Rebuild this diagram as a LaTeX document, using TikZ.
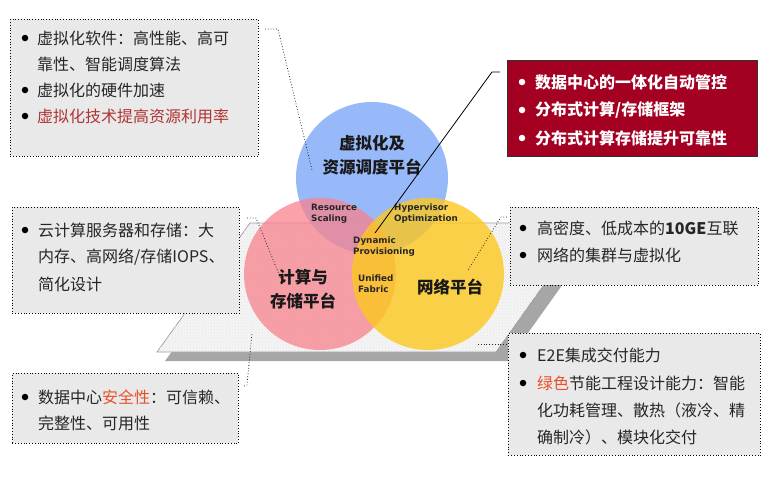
\documentclass[tikz,border=0pt]{standalone}
\usepackage{fontspec}
\newfontfamily\cjk{Noto Sans CJK SC}
\newfontfamily\lab{DejaVu Sans}
\usetikzlibrary{patterns}
\definecolor{boxgray}{HTML}{E9E9E9}
\definecolor{darkred}{HTML}{A30022}
\definecolor{hlred}{HTML}{E8502A}
\definecolor{txtred}{HTML}{B03434}
\definecolor{cblue}{RGB}{140,176,248}
\definecolor{cpink}{RGB}{248,130,140}
\definecolor{cyellow}{RGB}{252,200,30}
\definecolor{shadowgray}{HTML}{A6A6A6}
\tikzset{
  infobox/.style={draw=black, dotted, fill=boxgray, line width=0.8pt, inner sep=0pt},
  redbox/.style={draw=black!80, fill=darkred, line width=0.6pt, inner sep=0pt},
  boxtxt/.style={anchor=west, inner sep=0pt, font=\cjk\fontsize{16}{16}\selectfont, text=black!85},
  redtxt/.style={anchor=west, inner sep=0pt, text=white, font=\cjk\bfseries\fontsize{16}{16}\selectfont},
  bul/.style={circle, fill=black, inner sep=0pt, minimum size=6.5pt},
  wbul/.style={bul, fill=white},
  venn/.style={circle, minimum size=152pt, inner sep=0pt},
  circlabel/.style={align=center, inner sep=0pt, font=\cjk\bfseries\fontsize{16.5}{23.5}\selectfont, text=black!90},
  smalllab/.style={anchor=west, align=left, inner sep=0pt, font=\lab\bfseries\fontsize{8.8}{11}\selectfont, text=black!85},
  conn/.style={dotted, line width=0.8pt, black!85},
}
\begin{document}
\begin{tikzpicture}[x=1pt, y=-1pt]
\useasboundingbox (0,0) rectangle (777,493);
% platform
\fill[shadowgray] (165,361) -- (508,361) -- (600,232) -- (260,232) -- cycle;
\draw[gray!80, fill=gray!8, line width=0.7pt] (157,352) -- (496,352) -- (588,223) -- (250,223) -- cycle;
\fill[pattern=crosshatch dots, pattern color=gray!22] (157,352) -- (496,352) -- (588,223) -- (250,223) -- cycle;
% circles
\node[venn, fill=cblue, fill opacity=0.9] (cb) at (372,178) {};
\node[venn, fill=cpink, fill opacity=0.75] (cp) at (320,274) {};
\node[venn, fill=cyellow, fill opacity=0.8] (cy) at (428,274) {};
% circle labels
\node[circlabel] (lb) at (372,155) {虚拟化及\\资源调度平台};
\node[circlabel] (lp) at (303,289) {计算与\\存储平台};
\node[circlabel] (ly) at (450,287) {网络平台};
\node[smalllab] (rs) at (311,213.5) {Resource\\Scaling};
\node[smalllab] (ho) at (394,213.5) {Hypervisor\\Optimization};
\node[smalllab] (dp) at (353,246.5) {Dynamic\\Provisioning};
\node[smalllab] (uf) at (358,283.5) {Unified\\Fabric};
% connectors
\coordinate (a1) at (265,29); \coordinate (a2) at (278,29); \coordinate (a3) at (312,170);
\draw[conn] (a1) -- (a2) -- (a3);
\coordinate (b1) at (247,218); \coordinate (b2) at (256,218); \coordinate (b3) at (283,284);
\draw[conn] (b1) -- (b2) -- (b3);
\coordinate (c1) at (244,386); \coordinate (c2) at (247,385); \coordinate (c3) at (252,333);
\draw[conn] (c1) -- (c2) -- (c3);
\coordinate (e1) at (507,217); \coordinate (e2) at (501,217); \coordinate (e3) at (468,270);
\draw[conn] (e1) -- (e2) -- (e3);
\coordinate (f1) at (478,344); \coordinate (f2) at (508,344);
\draw[conn] (f1) -- (f2);
\coordinate (d1) at (375,233); \coordinate (d2) at (492,72); \coordinate (d3) at (500,72);
\draw[black, line width=0.8pt] (d1) -- (d2) -- (d3);
% boxes
\node[infobox, anchor=north west, minimum width=248pt, minimum height=137pt] (boxA) at (10,19) {};
\node[infobox, anchor=north west, minimum width=227pt, minimum height=106pt] (boxB) at (12,207) {};
\node[infobox, anchor=north west, minimum width=226pt, minimum height=70pt] (boxC) at (12,373) {};
\node[redbox, anchor=north west, minimum width=250pt, minimum height=96pt] (boxD) at (507,60) {};
\node[infobox, anchor=north west, minimum width=248pt, minimum height=78pt] (boxE) at (510,207) {};
\node[infobox, anchor=north west, minimum width=252pt, minimum height=122pt] (boxF) at (508,333) {};
% box A text
\node[bul] (a1b) at (25,38) {};
\node[boxtxt] (a1t) at (37,38) {虚拟化软件：高性能、高可};
\node[boxtxt] (a2t) at (37,64) {靠性、智能调度算法};
\node[bul] (a3b) at (25,90) {};
\node[boxtxt] (a3t) at (37,90) {虚拟化的硬件加速};
\node[bul] (a4b) at (25,116) {};
\node[boxtxt, text=txtred] (a4t) at (37,116) {虚拟化技术提高资源利用率};
% box B text
\node[bul] (b1b) at (25,230) {};
\node[boxtxt] (b1t) at (38,230) {云计算服务器和存储：大};
\node[boxtxt] (b2t) at (38,257) {内存、高网络/存储IOPS、};
\node[boxtxt] (b3t) at (38,284) {简化设计};
% box C text
\node[bul] (c1b) at (25,397) {};
\node[boxtxt] (c1t) at (38,397) {数据中心\textcolor{hlred}{安全性}：可信赖、};
\node[boxtxt] (c2t) at (38,423) {完整性、可用性};
% box D text
\node[wbul] (d1b) at (522,82) {};
\node[redtxt] (d1t) at (535,82) {数据中心的一体化自动管控};
\node[wbul] (d2b) at (522,110) {};
\node[redtxt] (d2t) at (535,110) {分布式计算/存储框架};
\node[wbul] (d3b) at (522,138) {};
\node[redtxt] (d3t) at (535,138) {分布式计算存储提升可靠性};
% box E text
\node[bul] (e1b) at (523,228) {};
\node[boxtxt] (e1t) at (537,228) {高密度、低成本的\textbf{10GE}互联};
\node[bul] (e2b) at (523,255) {};
\node[boxtxt] (e2t) at (537,255) {网络的集群与虚拟化};
% box F text
\node[bul] (f1b) at (523,355) {};
\node[boxtxt] (f1t) at (537,355) {E2E集成交付能力};
\node[bul] (f2b) at (523,383) {};
\node[boxtxt] (f2t) at (537,383) {\textcolor{hlred}{绿色}节能工程设计能力：智能};
\node[boxtxt] (f3t) at (537,410) {化功耗管理、散热（液冷、精};
\node[boxtxt] (f4t) at (537,437) {确制冷）、模块化交付};
\end{tikzpicture}
\end{document}
